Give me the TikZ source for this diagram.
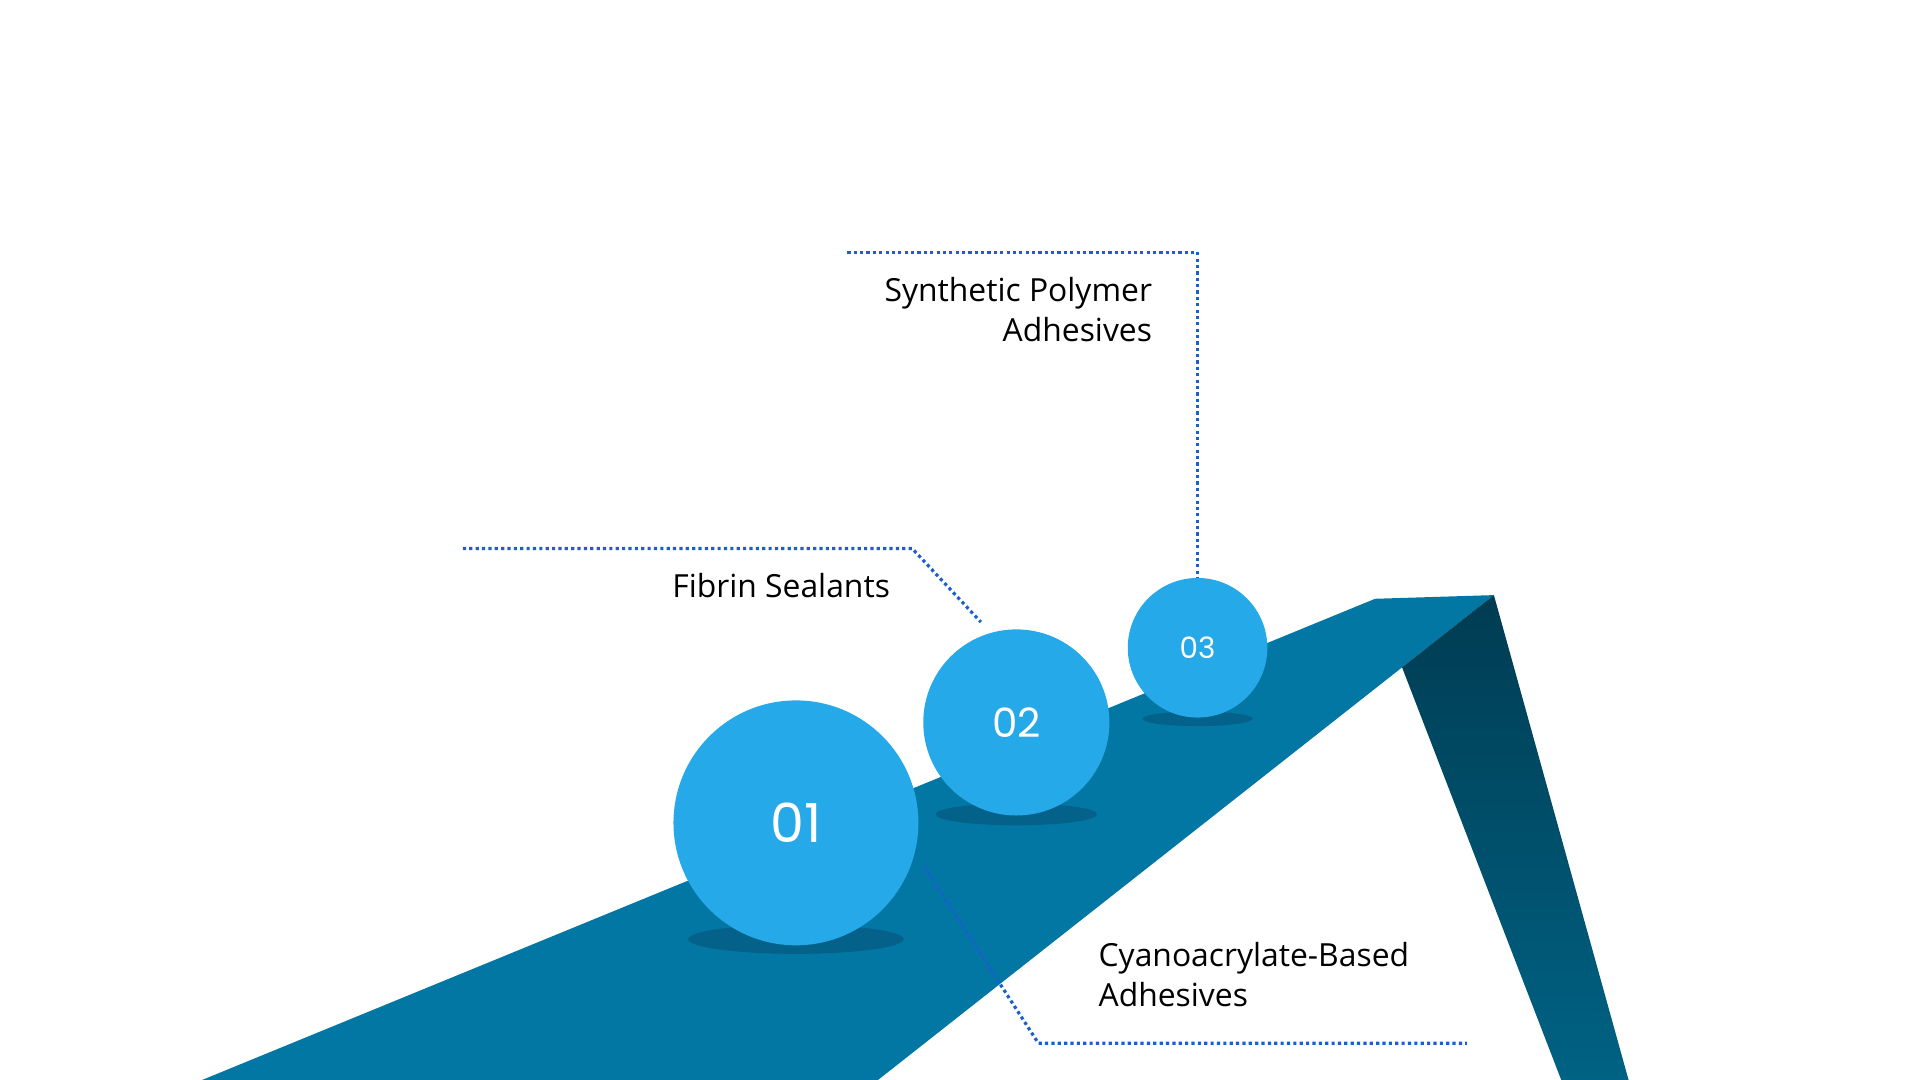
\documentclass[tikz,border=0pt]{standalone}
\usepackage{fontspec}
\setmainfont{Open Sans}
\newfontfamily\numfont{Poppins}
\begin{document}
\begin{tikzpicture}[x=1pt,y=-1pt,
  ball/.style={circle,fill=ballc,text=white,inner sep=0pt},
  shadow/.style={fill=shadc},
  lead/.style={draw=leadc,line width=2.6pt,dash pattern=on 2.6pt off 2.6pt},
  lab/.style={font=\fontsize{26}{33}\selectfont,text=black,inner sep=0pt}]
\definecolor{ballc}{HTML}{25A9E8}
\definecolor{rampc}{HTML}{0377A3}
\definecolor{shadc}{HTML}{04618A}
\definecolor{leadc}{HTML}{1A5FD0}
\definecolor{sidetop}{HTML}{003C52}
\definecolor{sidebot}{HTML}{006284}
\useasboundingbox (0,0) rectangle (1568,882);
\fill[rampc] (165,882) -- (1123,489) -- (1220,486) -- (717,882) -- cycle;
\shade[top color=sidetop,bottom color=sidebot] (1220,486) -- (1145,545) -- (1275,882) -- (1330,882) -- cycle;
\fill[shadow] (650,767) ellipse [x radius=88,y radius=12];
\fill[shadow] (830,665) ellipse [x radius=66,y radius=9];
\fill[shadow] (978,587) ellipse [x radius=45,y radius=6];
\node[ball,minimum size=200pt,font=\numfont\fontsize{44}{44}\selectfont] (b1) at (650,672) {01};
\node[ball,minimum size=152pt,font=\numfont\fontsize{33}{33}\selectfont] (b2) at (830,590) {02};
\node[ball,minimum size=114pt,font=\numfont\fontsize{24}{24}\selectfont] (b3) at (978,529) {03};
\coordinate (f0) at (378,448); \coordinate (f1) at (745,448); \coordinate (f2) at (801,508);
\draw[lead] (f0) -- (f1) -- (f2);
\coordinate (s0) at (692,206); \coordinate (s1) at (978,206);
\draw[lead] (s0) -- (s1) -- (b3.north);
\coordinate (c0) at (755,708); \coordinate (c1) at (848,852); \coordinate (c2) at (1198,852);
\draw[lead] (c0) -- (c1) -- (c2);
\node[lab,anchor=east] (tf) at (727,478) {Fibrin Sealants};
\node[lab,anchor=north east,align=right] (ts) at (941,226) {Synthetic Polymer\\Adhesives};
\node[lab,anchor=north west,align=left] (tc) at (897,769) {Cyanoacrylate-Based\\Adhesives};
\end{tikzpicture}
\end{document}
